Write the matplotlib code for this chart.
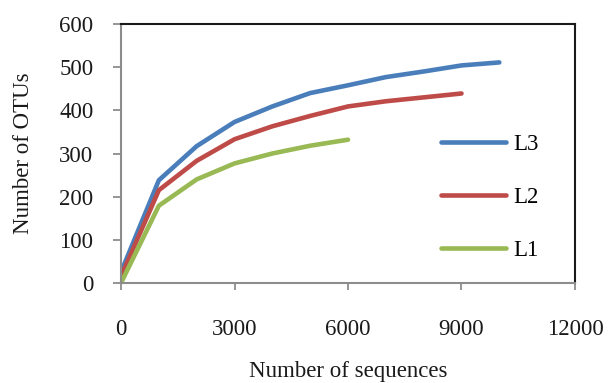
import matplotlib
matplotlib.use("Agg")
import matplotlib.pyplot as plt

plt.rcParams['font.family'] = ['Liberation Serif', 'DejaVu Serif']

x_l3 = [0, 1000, 2000, 3000, 4000, 5000, 6000, 7000, 8000, 9000, 10000]
y_l3 = [25, 238, 317, 373, 409, 440, 458, 477, 490, 504, 511]
x_l2 = [0, 1000, 2000, 3000, 4000, 5000, 6000, 7000, 8000, 9000]
y_l2 = [15, 215, 283, 333, 363, 387, 409, 421, 430, 439]
x_l1 = [0, 1000, 2000, 3000, 4000, 5000, 6000]
y_l1 = [0, 179, 240, 277, 300, 318, 332]

series = [("L3", x_l3, y_l3, "#4A7EBB"),
          ("L2", x_l2, y_l2, "#BE4B48"),
          ("L1", x_l1, y_l1, "#98B954")]

xticks = [0, 3000, 6000, 9000, 12000]
yticks = [0, 100, 200, 300, 400, 500, 600]

W, H = 608, 383
fs = 16.5
fig = plt.figure(figsize=(W/100, H/100), dpi=100)
ax = fig.add_axes([121/W, 1-283/H, (575-121)/W, (283-24)/H])

for name, xs, ys, c in series:
    ax.plot(xs, ys, color=c, lw=3.3, label=name, solid_capstyle='round', solid_joinstyle='round')

ax.set_xlim(0, 12000)
ax.set_ylim(0, 600)
ax.set_xticks(xticks)
ax.set_yticks(yticks)
ax.set_xticklabels([str(v) for v in xticks])
ax.set_yticklabels([str(v) for v in yticks])

for s in ['left', 'bottom']:
    ax.spines[s].set_color('#8C8C8C')
    ax.spines[s].set_linewidth(1.5)
for s in ['top', 'right']:
    ax.spines[s].set_color('#1a1a1a')
    ax.spines[s].set_linewidth(1.5)

ax.tick_params(axis='y', direction='out', length=5.8, width=1.3, color='#8C8C8C',
               pad=14, labelsize=fs, labelcolor='#1a1a1a')
ax.tick_params(axis='x', direction='out', length=5, width=1.3, color='#8C8C8C',
               pad=21, labelsize=fs, labelcolor='#1a1a1a')

ax.set_xlabel("Number of sequences", fontsize=fs, color='#1a1a1a', labelpad=15)
ax.set_ylabel("Number of OTUs", fontsize=fs, color='#1a1a1a', labelpad=18)

ax.legend(loc='upper left', bbox_to_anchor=(441/W, 1-134/H), bbox_transform=fig.transFigure,
          frameon=False, fontsize=fs, handlelength=2.85, handletextpad=0.3,
          labelspacing=1.4, borderpad=0, borderaxespad=0)

fig.savefig("out.png", dpi=100)
